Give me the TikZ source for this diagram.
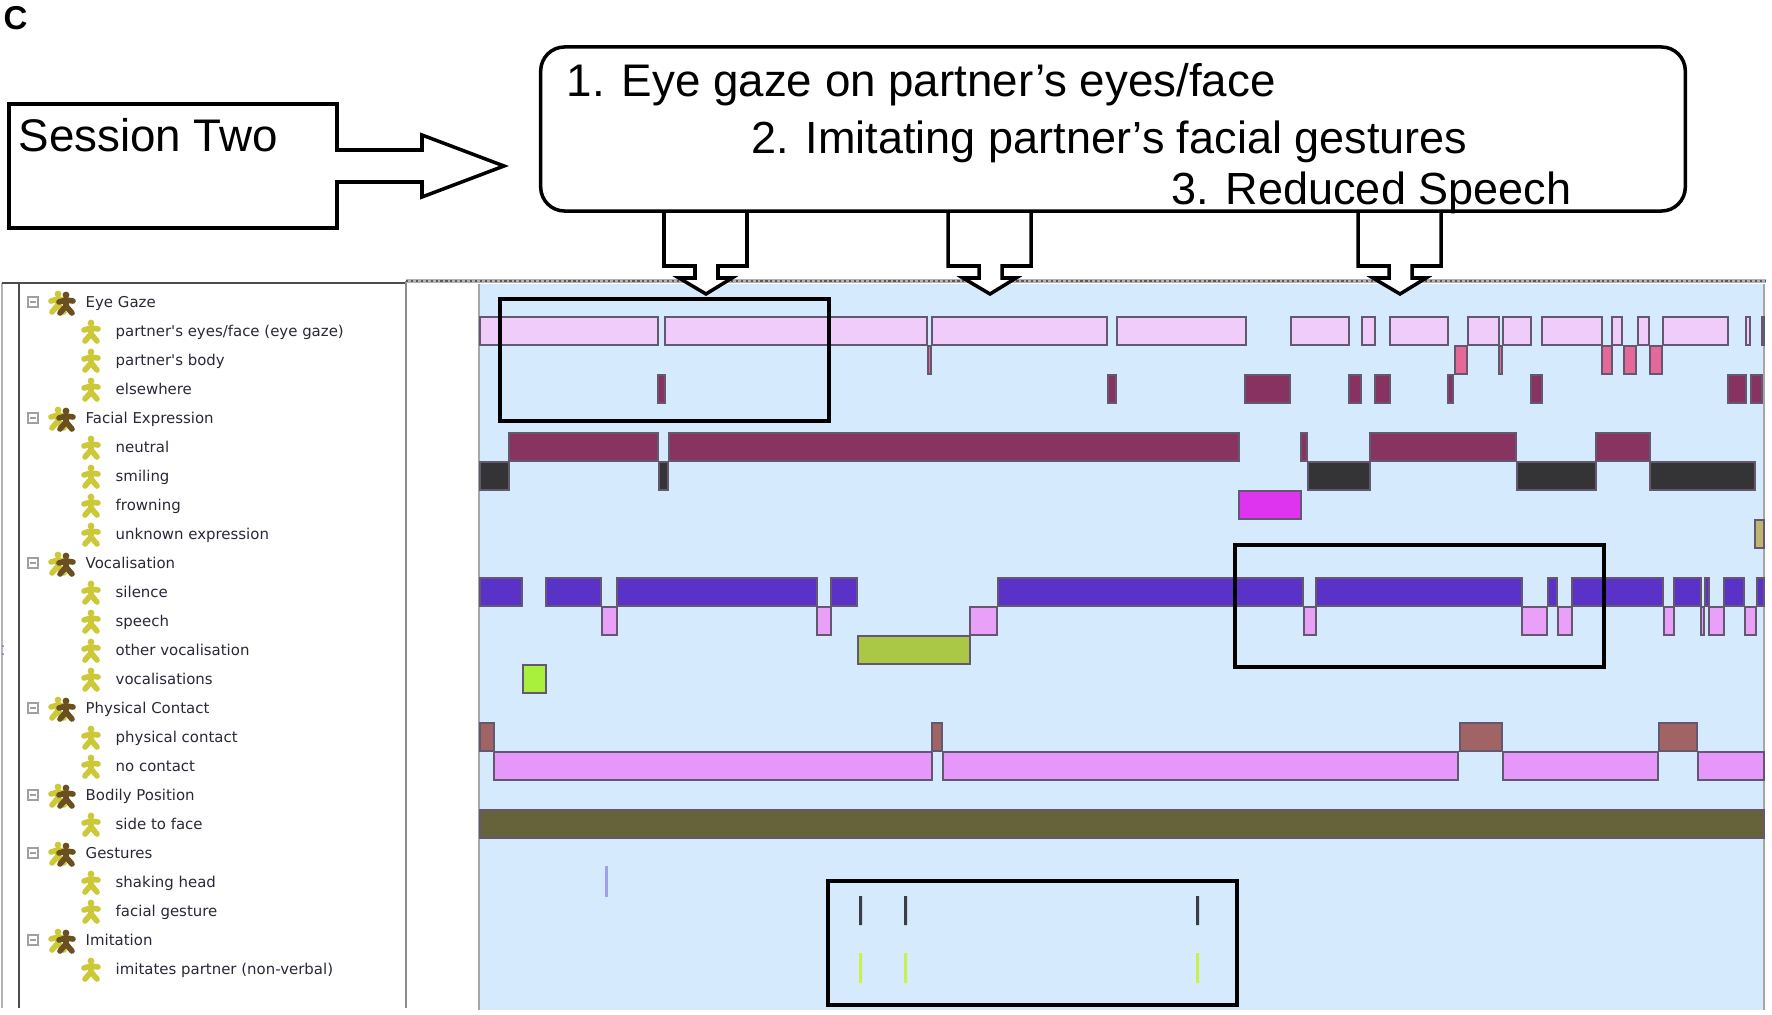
\documentclass[tikz,border=0pt]{standalone}
\usepackage{fontspec}
\setmainfont{Liberation Sans}
\newfontfamily\treefont{DejaVu Sans}
\definecolor{panelblue}{RGB}{213,234,252}
\definecolor{barline}{RGB}{100,88,112}
\definecolor{eyescol}{RGB}{240,204,250}
\definecolor{bodycol}{RGB}{228,104,152}
\definecolor{elsecol}{RGB}{135,50,96}
\definecolor{neutralcol}{RGB}{135,52,96}
\definecolor{smilecol}{RGB}{52,52,54}
\definecolor{frowncol}{RGB}{222,52,240}
\definecolor{unknowncol}{RGB}{190,182,112}
\definecolor{silencecol}{RGB}{90,50,200}
\definecolor{speechcol}{RGB}{232,160,248}
\definecolor{othercol}{RGB}{170,200,70}
\definecolor{vocalcol}{RGB}{168,240,60}
\definecolor{contactcol}{RGB}{160,100,100}
\definecolor{nocontactcol}{RGB}{230,152,250}
\definecolor{sidecol}{RGB}{102,98,58}
\definecolor{shakecol}{RGB}{160,160,240}
\definecolor{gesturecol}{RGB}{60,60,70}
\definecolor{imitatecol}{RGB}{200,240,80}
\definecolor{iconyel}{RGB}{205,200,55}
\definecolor{iconbrn}{RGB}{105,80,30}
\definecolor{foldcol}{RGB}{160,160,160}
\definecolor{treetxt}{RGB}{40,40,55}
\tikzset{%
	outline/.style  = {draw=black, fill=white, line width=1pt, line join=miter},
	callout/.style  = {outline, rounded corners=0.24cm, minimum width=11.44cm, minimum height=1.64cm},
	note/.style     = {anchor=base west, inner sep=0pt, font=\fontsize{12.8}{15}\selectfont},
	bignote/.style  = {note, font=\fontsize{13}{15}\selectfont},
	hilite/.style   = {draw=black, line width=1.15pt},
	grp/.style      = {anchor=base west, inner sep=0pt, text=treetxt, font=\treefont\fontsize{4.25}{5}\selectfont},
	item/.style     = {grp},
}
\tikzset{%
	bar/.style       = {draw=barline, line width=0.45pt},
	gazeeyes/.style  = {bar, fill=eyescol},
	gazebody/.style  = {bar, fill=bodycol},
	gazeelse/.style  = {bar, fill=elsecol},
	neutral/.style   = {bar, fill=neutralcol},
	smiling/.style   = {bar, fill=smilecol},
	frowning/.style  = {bar, fill=frowncol},
	unknown/.style   = {bar, fill=unknowncol},
	silence/.style   = {bar, fill=silencecol},
	speech/.style    = {bar, fill=speechcol},
	othervoc/.style  = {bar, fill=othercol},
	vocalis/.style   = {bar, fill=vocalcol},
	contact/.style   = {bar, fill=contactcol},
	nocontact/.style = {bar, fill=nocontactcol},
	sideface/.style  = {bar, fill=sidecol},
}
\tikzset{%
	figure/.pic = {\draw[line width=1.6pt, line cap=round, line join=round] (-7,-1) -- (0,-3) -- (7,-2) (0,-3) -- (0,3) -- (-6,10) (0,3) -- (6,10); \fill (0,-8) circle (3.4);},
	kid/.pic    = {\pic[iconyel] {figure};},
	crew/.pic   = {\pic[iconyel] at (-4,0) {figure}; \pic[iconbrn] at (4,1) {figure};},
	fold/.pic   = {\draw[foldcol, line width=0.35pt, fill=white] (-5,-5) rectangle (5,5); \draw[foldcol, line width=0.35pt] (-3,0) -- (3,0);},
}
\begin{document}
\begin{tikzpicture}[x=0.01cm, y=-0.01cm]
	\useasboundingbox (0,0) rectangle (1772,1015);
	% coding tree frame
	\draw[gray!60, line width=0.3pt] (2,283) -- (2,1008);
	\draw[black!70, line width=0.6pt] (2,283) -- (406,283);
	\draw[black!70, line width=0.7pt] (19,283) -- (19,1008);
	\draw[black!45, line width=0.6pt] (406,281) -- (406,1008);
	\fill[blue!60] (3,646) circle (1) (3,654) circle (1);
	% timeline panel
	\fill[panelblue] (479,284) rectangle (1764,1010);
	\draw[black!35, line width=0.5pt] (479,284) -- (479,1010) (1764,284) -- (1764,1010);
	\draw[black!30, line width=1.1pt] (406,281) -- (1766,281);
	\draw[black!65, line width=0.5pt, dash pattern=on 0.6pt off 0.8pt] (406,281) -- (1766,281);
	
	% eye gaze
	\draw[gazeeyes] (480,317) rectangle (658,345) (665,317) rectangle (927,345) (932,317) rectangle (1107,345) (1117,317) rectangle (1246,345) (1291,317) rectangle (1349,345) (1362,317) rectangle (1375,345) (1390,317) rectangle (1448,345) (1468,317) rectangle (1499,345) (1503,317) rectangle (1531,345) (1542,317) rectangle (1602,345) (1612,317) rectangle (1622,345) (1638,317) rectangle (1649,345) (1663,317) rectangle (1728,345) (1746,317) rectangle (1750,345) (1762,317) rectangle (1764,345);
	\draw[gazebody] (928,346) rectangle (931,374) (1455,346) rectangle (1467,374) (1499,346) rectangle (1502,374) (1602,346) rectangle (1612,374) (1624,346) rectangle (1636,374) (1650,346) rectangle (1662,374);
	\draw[gazeelse] (658,375) rectangle (665,403) (1108,375) rectangle (1116,403) (1245,375) rectangle (1290,403) (1349,375) rectangle (1361,403) (1375,375) rectangle (1390,403) (1448,375) rectangle (1453,403) (1531,375) rectangle (1542,403) (1728,375) rectangle (1746,403) (1751,375) rectangle (1762,403);
	% facial expression
	\draw[neutral] (509,433) rectangle (658,461) (669,433) rectangle (1239,461) (1301,433) rectangle (1307,461) (1370,433) rectangle (1516,461) (1596,433) rectangle (1650,461);
	\draw[smiling] (480,462) rectangle (509,490) (659,462) rectangle (668,490) (1308,462) rectangle (1370,490) (1517,462) rectangle (1596,490) (1650,462) rectangle (1755,490);
	\draw[frowning] (1239,491) rectangle (1301,519);
	\draw[unknown] (1755,520) rectangle (1764,548);
	% vocalisation
	\draw[silence] (480,578) rectangle (522,606) (546,578) rectangle (601,606) (617,578) rectangle (817,606) (831,578) rectangle (857,606) (998,578) rectangle (1303,606) (1316,578) rectangle (1522,606) (1548,578) rectangle (1557,606) (1572,578) rectangle (1663,606) (1674,578) rectangle (1701,606) (1705,578) rectangle (1709,606) (1724,578) rectangle (1744,606) (1757,578) rectangle (1764,606);
	\draw[speech] (602,607) rectangle (617,635) (817,607) rectangle (831,635) (970,607) rectangle (997,635) (1304,607) rectangle (1316,635) (1522,607) rectangle (1547,635) (1558,607) rectangle (1572,635) (1664,607) rectangle (1674,635) (1701,607) rectangle (1704,635) (1709,607) rectangle (1724,635) (1745,607) rectangle (1756,635);
	\draw[othervoc] (858,636) rectangle (970,664);
	\draw[vocalis] (523,665) rectangle (546,693);
	% physical contact, position
	\draw[contact] (480,723) rectangle (494,751) (932,723) rectangle (942,751) (1460,723) rectangle (1502,751) (1659,723) rectangle (1697,751);
	\draw[nocontact] (494,752) rectangle (932,780) (943,752) rectangle (1458,780) (1503,752) rectangle (1658,780) (1698,752) rectangle (1764,780);
	\draw[sideface] (480,810) rectangle (1764,838);
	% gestures, imitation
	\fill[shakecol] (605,866) rectangle (608,897);
	\fill[gesturecol] (859,896) rectangle (862,925) (904,896) rectangle (907,925) (1196,896) rectangle (1199,925);
	\fill[imitatecol] (859,953) rectangle (862,983) (904,953) rectangle (907,983) (1196,953) rectangle (1199,983);
	
	\draw[hilite] (500,299) rectangle (829,421);
	\draw[hilite] (1235,545) rectangle (1604,667);
	\draw[hilite] (828,881) rectangle (1237,1005);
	
	% coding tree
	\path (33,302) pic{fold} (62,302) pic{crew} (85,307) node[grp] (eyegaze) {Eye Gaze};
	\path (91,331) pic{kid} (115,336) node[item] (eyesface) {partner's eyes/face (eye gaze)};
	\path (91,360) pic{kid} (115,365) node[item] (body) {partner's body};
	\path (91,389) pic{kid} (115,394) node[item] (elsewhere) {elsewhere};
	\path (33,418) pic{fold} (62,418) pic{crew} (85,423) node[grp] (facial) {Facial Expression};
	\path (91,447) pic{kid} (115,452) node[item] (neutralx) {neutral};
	\path (91,476) pic{kid} (115,481) node[item] (smilingx) {smiling};
	\path (91,505) pic{kid} (115,510) node[item] (frowningx) {frowning};
	\path (91,534) pic{kid} (115,539) node[item] (unknownx) {unknown expression};
	\path (33,563) pic{fold} (62,563) pic{crew} (85,568) node[grp] (vocal) {Vocalisation};
	\path (91,592) pic{kid} (115,597) node[item] (silencex) {silence};
	\path (91,621) pic{kid} (115,626) node[item] (speechx) {speech};
	\path (91,650) pic{kid} (115,655) node[item] (otherx) {other vocalisation};
	\path (91,679) pic{kid} (115,684) node[item] (vocalx) {vocalisations};
	\path (33,708) pic{fold} (62,708) pic{crew} (85,713) node[grp] (physical) {Physical Contact};
	\path (91,737) pic{kid} (115,742) node[item] (contactx) {physical contact};
	\path (91,766) pic{kid} (115,771) node[item] (nocontactx) {no contact};
	\path (33,795) pic{fold} (62,795) pic{crew} (85,800) node[grp] (bodily) {Bodily Position};
	\path (91,824) pic{kid} (115,829) node[item] (sidex) {side to face};
	\path (33,853) pic{fold} (62,853) pic{crew} (85,858) node[grp] (gestures) {Gestures};
	\path (91,882) pic{kid} (115,887) node[item] (shakex) {shaking head};
	\path (91,911) pic{kid} (115,916) node[item] (facialx) {facial gesture};
	\path (33,940) pic{fold} (62,940) pic{crew} (85,945) node[grp] (imitation) {Imitation};
	\path (91,969) pic{kid} (115,974) node[item] (imitatex) {imitates partner (non-verbal)};
	
	% annotations
	\node[anchor=base west, inner sep=0pt, font=\bfseries\fontsize{9.4}{11}\selectfont] (panel) at (3,29) {C};
	\draw[outline] (9,104) -- (337,104) -- (337,150) -- (422,150) -- (422,135) -- (504,166) -- (422,197) -- (422,182) -- (337,182) -- (337,228) -- (9,228) -- cycle;
	\node[bignote] (session) at (18,151) {Session Two};
	\draw[outline] (664,211) -- ++(0,55) -- ++(31,0) -- ++(0,12) -- ++(-16,0) -- ++(27,16) -- ++(26,-16) -- ++(-14,0) -- ++(0,-12) -- ++(29,0) -- ++(0,-55);
	\draw[outline] (948,211) -- ++(0,55) -- ++(31,0) -- ++(0,12) -- ++(-16,0) -- ++(27,16) -- ++(26,-16) -- ++(-14,0) -- ++(0,-12) -- ++(29,0) -- ++(0,-55);
	\draw[outline] (1358,211) -- ++(0,55) -- ++(31,0) -- ++(0,12) -- ++(-16,0) -- ++(27,16) -- ++(26,-16) -- ++(-14,0) -- ++(0,-12) -- ++(29,0) -- ++(0,-55);
	\node[callout] (notes) at (1113,129) {};
	\node[bignote] (gazeline) at (566,97) {1. Eye gaze on partner’s eyes/face};
	\node[note] (imitline) at (751,153) {2. Imitating partner’s facial gestures};
	\node[note] (speechline) at (1171,204) {3. Reduced Speech};
\end{tikzpicture}
\end{document}
